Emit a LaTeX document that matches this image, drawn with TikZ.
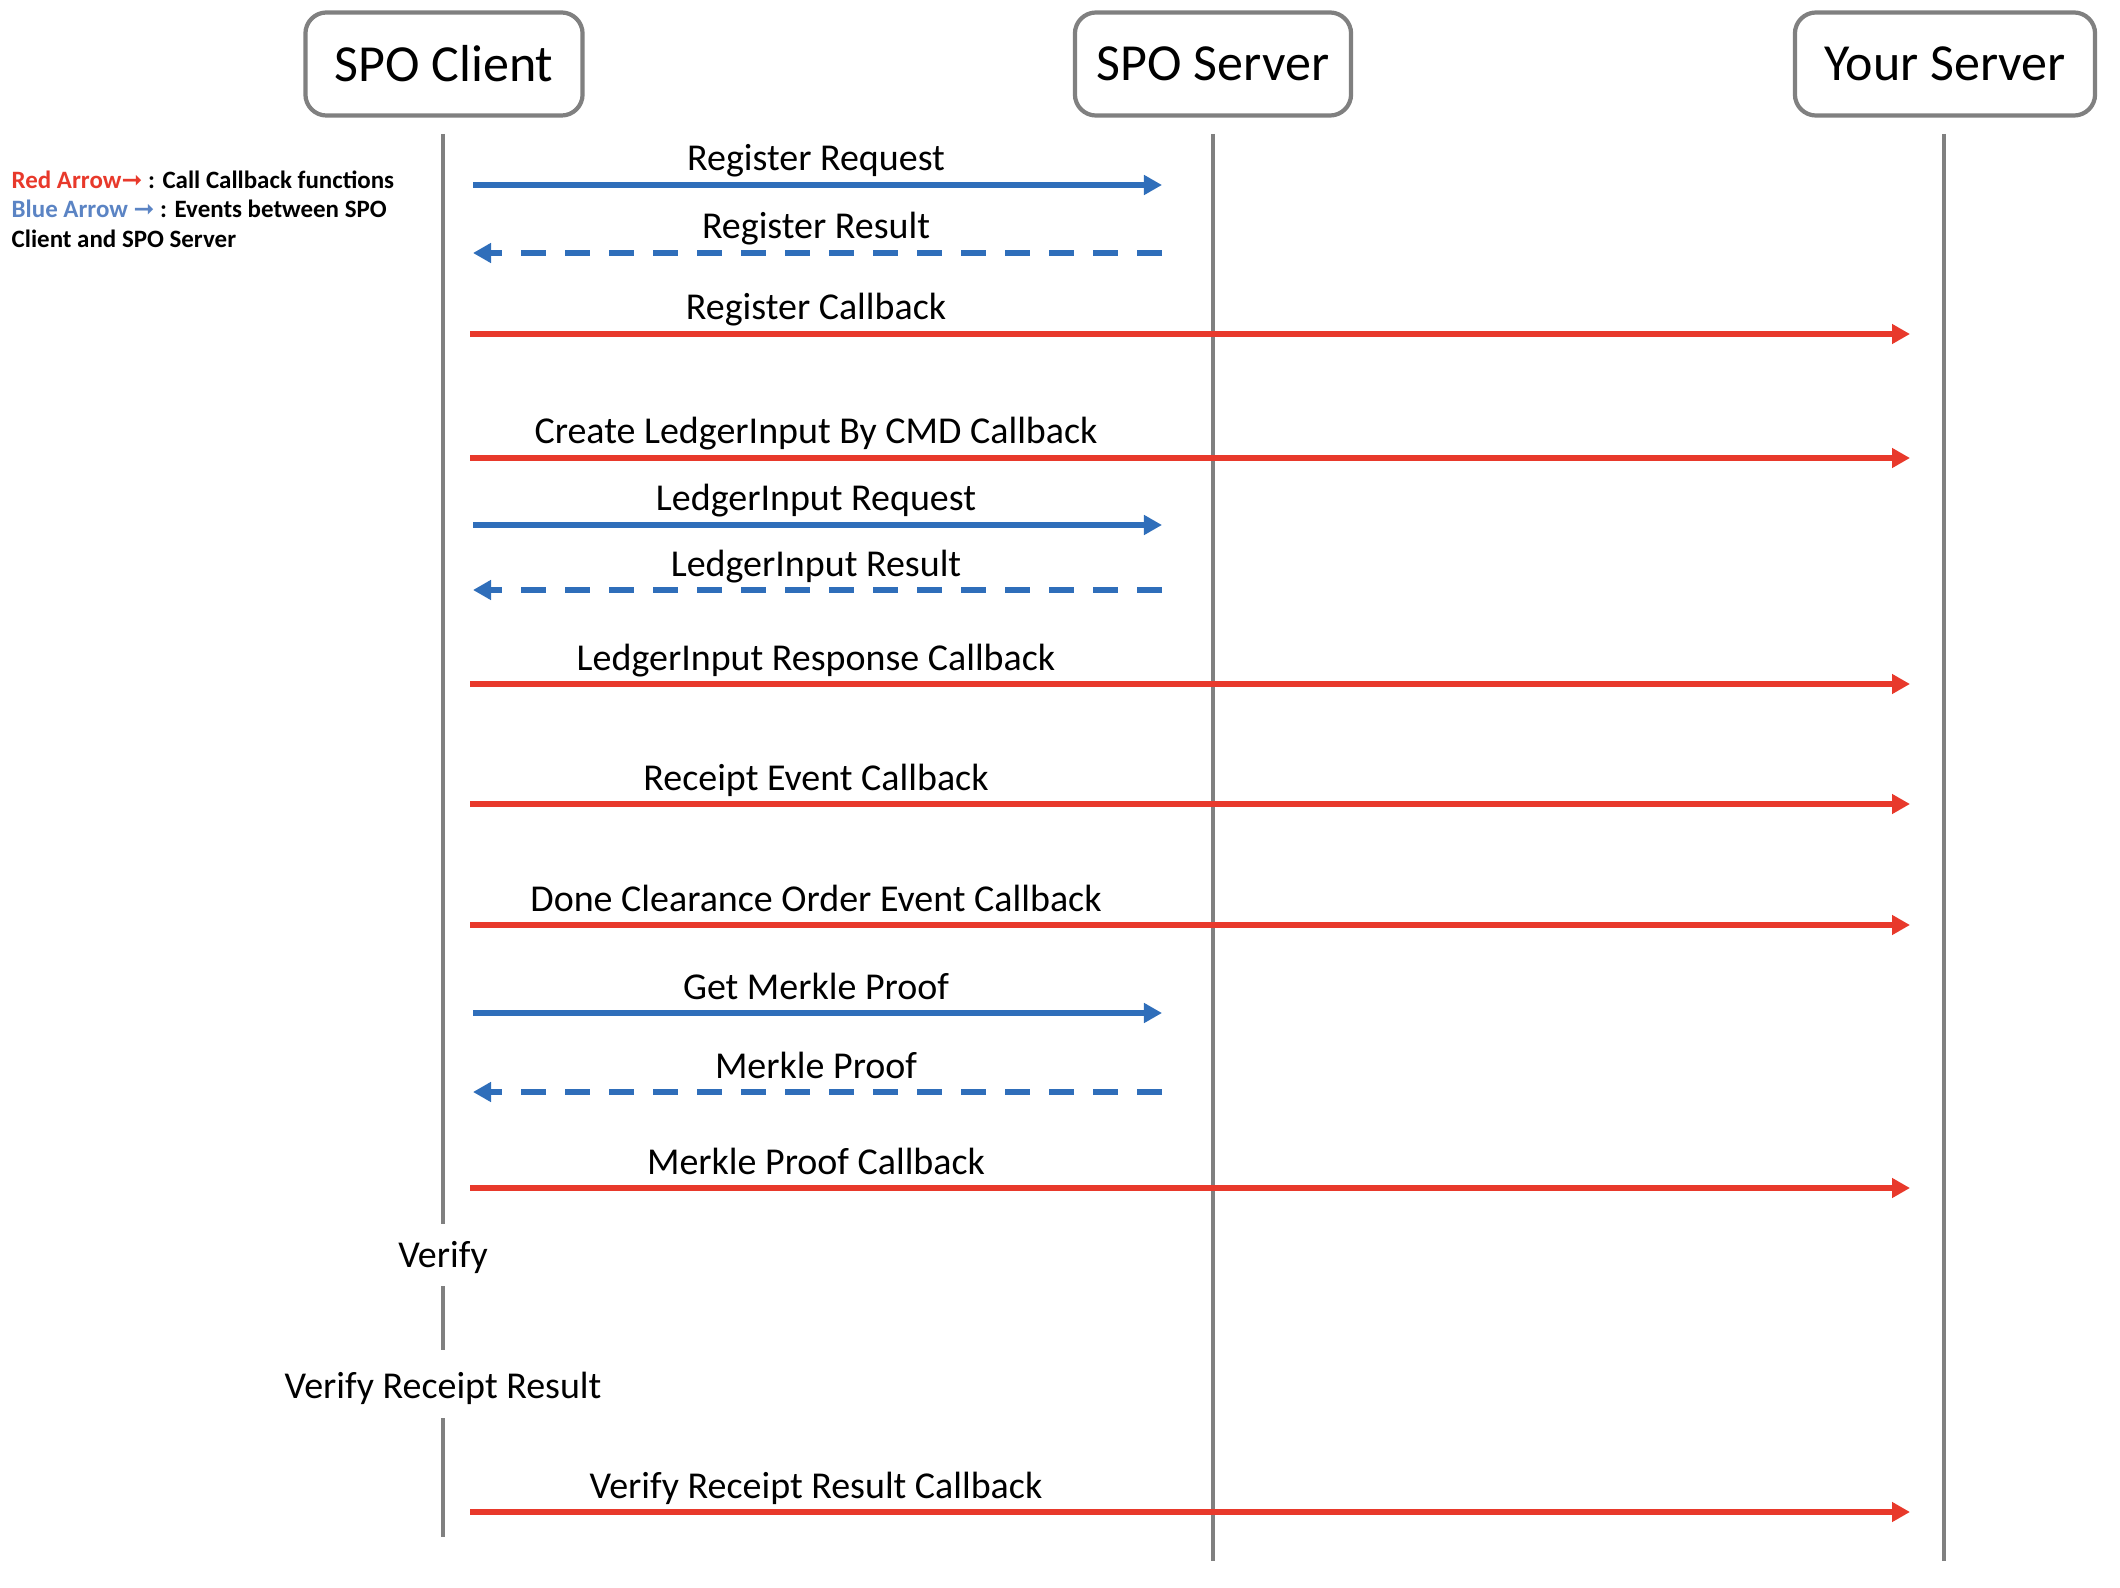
\documentclass[tikz,border=0pt]{standalone}
\usepackage{fontspec}
\setmainfont{Carlito}
\newfontfamily\symfont{DejaVu Sans}
\usetikzlibrary{arrows.meta}

\definecolor{cbred}{HTML}{E8392B}
\definecolor{evblue}{HTML}{2F6EBA}
\definecolor{legblue}{HTML}{5B84C4}
\definecolor{lifegray}{HTML}{808080}

\tikzset{
  party/.style={draw=lifegray, line width=1.2pt, rounded corners=6pt,
    minimum height=1.03cm, inner sep=0pt, font=\fontsize{14.8}{17}\selectfont},
  life/.style={lifegray, line width=1.4pt},
  lbl/.style={font=\fontsize{10.8}{13}\selectfont, inner sep=0pt},
  legend/.style={anchor=base west, inner sep=0pt, font=\fontsize{7.1}{8.5}\selectfont\bfseries},
  tip/.style={-{Triangle[length=0.18cm,width=0.19cm]}},
  bluearr/.style={tip, evblue, line width=1.7pt},
  bluedash/.style={bluearr, dash pattern=on 0.25cm off 0.19cm},
  redarr/.style={tip, cbred, line width=1.7pt}
}

\begin{document}
\begin{tikzpicture}[x=0.01cm, y=-0.01cm]
\useasboundingbox (0,0) rectangle (2120,1588);

% participants
\node[party, minimum width=2.77cm] (cli) at (444,64) {SPO Client};
\node[party, minimum width=2.76cm] (srv) at (1213,64) {SPO Server};
\node[party, minimum width=3.00cm] (your) at (1945,64) {Your Server};

% lifelines
\draw[life] (443,134) -- (443,1224);
\draw[life] (443,1286) -- (443,1350);
\draw[life] (443,1418) -- (443,1537);
\draw[life] (1213,134) -- (1213,1561);
\draw[life] (1944,134) -- (1944,1561);

% legend
\node[legend] (leg1) at (11,189) {\textcolor{cbred}{Red Arrow{\symfont ➞}} : Call Callback functions};
\node[legend] (leg2) at (11,218) {\textcolor{legblue}{Blue Arrow {\symfont ➞}} : Events between SPO};
\node[legend] (leg3) at (11,248) {Client and SPO Server};

% requests to SPO Server
\foreach \y/\txt [count=\n] in {185/Register Request, 525/LedgerInput Request, 1013/Get Merkle Proof} {
    \coordinate (rqA\n) at (473,\y);
    \coordinate (rqB\n) at (1162,\y);
    \draw[bluearr] (rqA\n) -- (rqB\n);
    \node[lbl, anchor=base] (rqL\n) at (816,\y-14) {\txt};
}

% results back from SPO Server
\foreach \y/\txt [count=\n] in {253/Register Result, 590/LedgerInput Result, 1092/Merkle Proof} {
    \coordinate (rsA\n) at (1162,\y);
    \coordinate (rsB\n) at (473,\y);
    \draw[bluedash] (rsA\n) -- (rsB\n);
    \node[lbl, anchor=base] (rsL\n) at (816,\y-14) {\txt};
}

% callbacks to Your Server
\foreach \y/\txt [count=\n] in {334/Register Callback, 458/Create LedgerInput By CMD Callback,
    684/LedgerInput Response Callback, 804/Receipt Event Callback,
    925/Done Clearance Order Event Callback, 1188/Merkle Proof Callback,
    1512/Verify Receipt Result Callback} {
    \coordinate (cbA\n) at (470,\y);
    \coordinate (cbB\n) at (1910,\y);
    \draw[redarr] (cbA\n) -- (cbB\n);
    \node[lbl, anchor=base] (cbL\n) at (816,\y-14) {\txt};
}

% local steps
\node[lbl] (vfy) at (443,1257) {Verify};
\node[lbl] (vrr) at (443,1388) {Verify Receipt Result};
\end{tikzpicture}
\end{document}
